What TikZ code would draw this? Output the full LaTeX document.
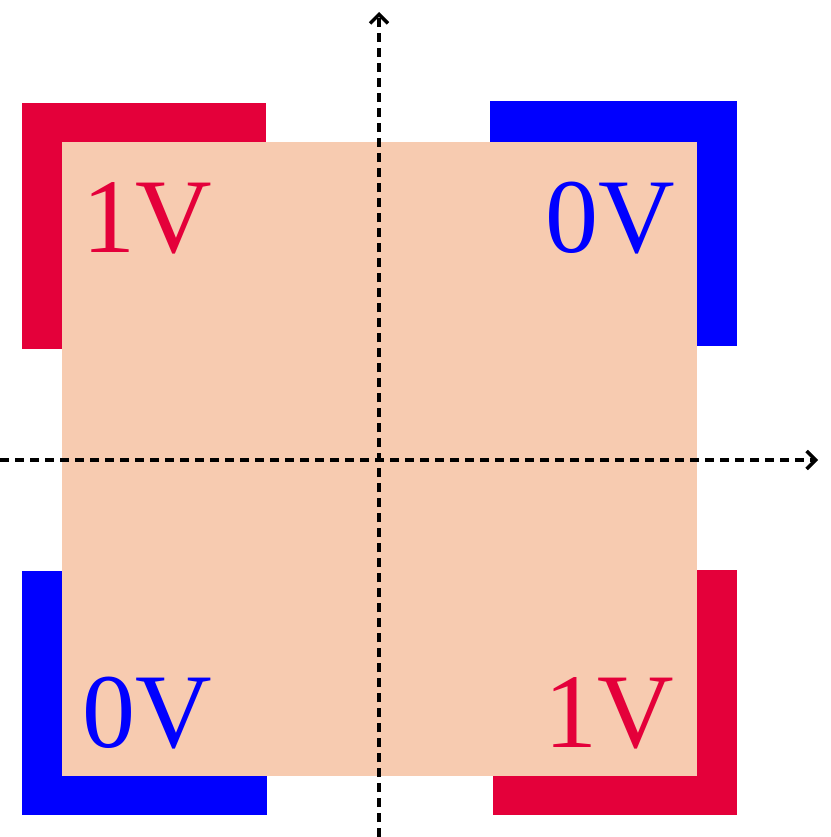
\documentclass[tikz,border=0pt]{standalone}
\usepackage{fontspec}
\setmainfont{Liberation Serif}
\newfontfamily\tnr{Liberation Serif}
\usetikzlibrary{arrows.meta}
\definecolor{peach}{HTML}{F7CBB0}
\definecolor{myred}{HTML}{E4003A}
\definecolor{myblue}{HTML}{0000FF}
\begin{document}
\begin{tikzpicture}[x=1pt,y=-1pt,
  lbl/.style={font=\tnr\fontsize{106}{106}\selectfont,inner sep=0pt},
  axis/.style={line width=3.5pt,dash pattern=on 9pt off 6pt,-{Straight Barb[length=9pt,width=18pt,line width=3.5pt]}}]
\useasboundingbox (0,0) rectangle (830,837);
\fill[peach] (62,142) rectangle (697,776);
\fill[myred] (22,103) rectangle (62,349);
\fill[myred] (22,103) rectangle (266,142);
\fill[myblue] (490,101) rectangle (737,142);
\fill[myblue] (697,101) rectangle (737,346);
\fill[myblue] (22,571) rectangle (62,815);
\fill[myblue] (22,776) rectangle (267,815);
\fill[myred] (697,570) rectangle (737,815);
\fill[myred] (493,776) rectangle (737,815);
\coordinate (xa) at (0,460); \coordinate (xb) at (818,460);
\coordinate (ya) at (379,837); \coordinate (yb) at (379,12);
\draw[axis] (xa) -- (xb);
\draw[axis] (ya) -- (yb);
\node[lbl,text=myred] (t1) at (147,218) {1V};
\node[lbl,text=myblue] (t2) at (610,218) {0V};
\node[lbl,text=myblue] (t3) at (147,713) {0V};
\node[lbl,text=myred] (t4) at (609,713) {1V};
\end{tikzpicture}
\end{document}
